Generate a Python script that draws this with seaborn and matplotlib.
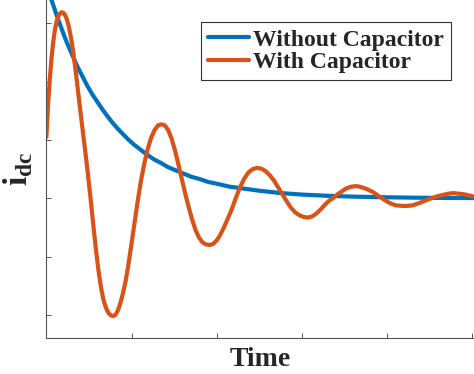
import pandas as pd
import seaborn as sns
import matplotlib.pyplot as plt

# values (x in tick units, y relative to the steady state)
t_without = [0.0, 0.06, 0.12, 0.18, 0.24, 0.30, 0.36, 0.42, 0.48, 0.54, 0.60, 0.66,
             0.72, 0.78, 0.84, 0.90, 0.96, 1.02, 1.10, 1.18, 1.26, 1.34, 1.42, 1.50,
             1.60, 1.70, 1.80, 1.90, 2.00, 2.15, 2.30, 2.50, 2.75, 3.00, 3.30, 3.60,
             4.00, 4.50, 5.02]
i_without = [3.70, 3.40, 3.14, 2.90, 2.67, 2.47, 2.27, 2.10, 1.93, 1.78, 1.65, 1.52,
             1.40, 1.29, 1.19, 1.10, 1.01, 0.93, 0.84, 0.75, 0.67, 0.61, 0.54, 0.49,
             0.43, 0.37, 0.33, 0.28, 0.25, 0.20, 0.17, 0.13, 0.09, 0.064, 0.043, 0.029,
             0.017, 0.008, 0.004]

t_with = [0.0, 0.02, 0.04, 0.06, 0.08, 0.10, 0.12, 0.14, 0.16, 0.18, 0.20, 0.22,
          0.24, 0.26, 0.28, 0.30, 0.32, 0.34, 0.36, 0.38, 0.40, 0.43, 0.46, 0.49,
          0.52, 0.55, 0.58, 0.61, 0.64, 0.67, 0.70, 0.73, 0.76, 0.785, 0.81, 0.84,
          0.87, 0.90, 0.93, 0.96, 1.00, 1.04, 1.074, 1.11, 1.15, 1.19, 1.23, 1.27,
          1.31, 1.35, 1.39, 1.43, 1.47, 1.51, 1.55, 1.59, 1.63, 1.67, 1.71, 1.75,
          1.79, 1.83, 1.87, 1.92, 1.96, 2.00, 2.04, 2.08, 2.12, 2.17, 2.22, 2.27,
          2.32, 2.37, 2.42, 2.47, 2.52, 2.57, 2.62, 2.67, 2.72, 2.77, 2.82, 2.87,
          2.92, 2.97, 3.02, 3.07, 3.12, 3.17, 3.22, 3.27, 3.32, 3.37, 3.42, 3.47,
          3.52, 3.58, 3.64, 3.70, 3.76, 3.83, 3.90, 3.96, 4.03, 4.10, 4.18, 4.24,
          4.30, 4.38, 4.48, 4.578, 4.66, 4.72, 4.78, 4.84, 4.90, 4.96, 5.02]
i_with = [1.05, 1.62, 2.05, 2.40, 2.68, 2.89, 3.03, 3.12, 3.17, 3.19, 3.18, 3.14,
          3.07, 2.96, 2.82, 2.66, 2.45, 2.22, 1.98, 1.73, 1.48, 1.12, 0.76, 0.38,
          -0.02, -0.45, -0.86, -1.22, -1.52, -1.74, -1.88, -1.97, -2.01, -2.02, -2.00,
          -1.92, -1.79, -1.62, -1.42, -1.16, -0.77, -0.37, -0.03, 0.30, 0.60, 0.85,
          1.04, 1.17, 1.25, 1.27, 1.25, 1.17, 1.02, 0.82, 0.58, 0.33, 0.08, -0.15,
          -0.36, -0.54, -0.67, -0.75, -0.79, -0.80, -0.78, -0.72, -0.63, -0.51, -0.38,
          -0.21, -0.01, 0.18, 0.33, 0.44, 0.50, 0.52, 0.51, 0.47, 0.40, 0.31, 0.19,
          0.07, -0.05, -0.16, -0.24, -0.29, -0.32, -0.33, -0.31, -0.26, -0.19, -0.11,
          -0.04, 0.01, 0.07, 0.12, 0.17, 0.20, 0.21, 0.19, 0.16, 0.11, 0.04, -0.02,
          -0.08, -0.12, -0.13, -0.13, -0.12, -0.08, -0.02, 0.03, 0.06, 0.08, 0.09,
          0.08, 0.07, 0.05, 0.03]

xticks = [0, 1, 2, 3, 4, 5]
yticks = [-2, -1, 0, 1, 2, 3]

sns.set_theme(style='ticks')
plt.rcParams['font.family'] = ['Liberation Serif', 'DejaVu Serif']
plt.rcParams['font.weight'] = 'bold'
plt.rcParams['mathtext.fontset'] = 'custom'
plt.rcParams['mathtext.rm'] = 'Liberation Serif'
plt.rcParams['mathtext.bf'] = 'Liberation Serif:bold'

fig = plt.figure(figsize=(4.74, 3.74), dpi=100)
ax = fig.add_axes([46.4 / 474, 35.7 / 374, 427.6 / 474, 338.3 / 374])

sns.lineplot(x=t_without, y=i_without, color='#0072BD', linewidth=3.0, sort=False,
             label='Without Capacitor', ax=ax)
sns.lineplot(x=t_with, y=i_with, color='#D95319', linewidth=3.0, sort=False,
             label='With Capacitor', ax=ax)

ax.set_xlim(0, 5.02)
ax.set_ylim(-2.4, 3.4)
ax.set_xticks(xticks)
ax.set_yticks(yticks)
ax.set_xticklabels([])
ax.set_yticklabels([])
ax.tick_params(direction='in', length=3.6, width=0.7, color='#555555')
for side in ['top', 'right']:
    ax.spines[side].set_visible(False)
for side in ['left', 'bottom']:
    ax.spines[side].set_color('#555555')
    ax.spines[side].set_linewidth(0.8)

ax.set_xlabel('Time', fontsize=20, fontweight='bold', labelpad=3)
ax.set_ylabel(r'$\mathbf{i}_{\mathbf{dc}}$', fontsize=24)
ax.yaxis.set_label_coords(-0.027, 0.5)

leg = ax.legend(loc='upper right', bbox_to_anchor=(0.946, 0.935), borderaxespad=0,
                fancybox=False, framealpha=1, edgecolor='#333333',
                prop={'family': 'Liberation Serif', 'weight': 'bold', 'size': 17},
                handlelength=1.75, handletextpad=0.15, labelspacing=0.05,
                borderpad=0.3)
leg.get_frame().set_linewidth(0.8)

fig.savefig('out.png', dpi=100)
